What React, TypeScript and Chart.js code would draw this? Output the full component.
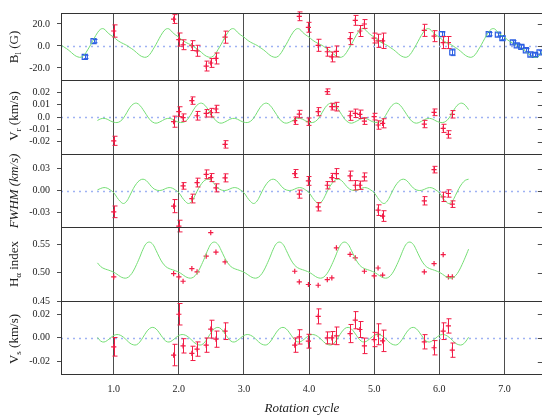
import React, { useEffect, useRef } from "react";
import { Chart, registerables } from "chart.js";

Chart.register(...registerables);

// ---------------- x axis (rotation cycle) ----------------
const X_MIN = 0.19;
const X_MAX = 7.59;
const X_TICKS = [1, 2, 3, 4, 5, 6, 7];
const X_TICK_LABELS = ["1.0", "2.0", "3.0", "4.0", "5.0", "6.0", "7.0"];
const X_TITLE = "Rotation cycle";

// ---------------- observations (red) ----------------
const OBS_X = [1.0, 1.92, 2.0, 2.065, 2.2, 2.28, 2.42, 2.49, 2.57, 2.71, 3.78, 3.85, 3.99, 4.14, 4.28, 4.35, 4.42, 4.63, 4.71, 4.78, 4.85, 5.0, 5.06, 5.13, 5.77, 5.92, 6.06, 6.14, 6.2];

const BL_Y = [13.6, 24.5, 5.8, 1.1, 0.3, -4.4, -18.3, -15.5, -11.4, 8, null, 27, 17, 0.6, -5.3, -10, -5, 6.7, 23.3, 13.6, 20, 7.2, 4.7, 4.7, 14.2, 8.9, 3.1, 3.1, null];
const BL_ERR = [5.6, 4, 6, 4.5, 4.5, 5, 4.5, 4, 5, 5.5, 0, 4, 4.5, 5.5, 4, 4.5, 5, 5.5, 4.5, 5, 4, 4.5, 6, 7, 5.5, 5, 5.5, 5.5, 0];

const VR_Y = [-0.0193, -0.0038, 0.0043, -0.0005, 0.0133, 0.001, 0.003, 0.0035, 0.0065, -0.0222, -0.003, 0.0024, -0.0038, 0.0043, 0.0206, 0.0084, 0.0084, 0.001, 0.003, 0.0022, -0.0033, 0.0003, -0.0065, -0.0051, -0.0057, 0.0038, -0.0092, -0.0141, 0.0022];
const VR_ERR = [0.0037, 0.0045, 0.004, 0.003, 0.003, 0.0035, 0.003, 0.0035, 0.003, 0.003, 0.003, 0.003, 0.003, 0.0033, 0.0022, 0.0027, 0.0035, 0.0037, 0.0034, 0.0034, 0.0027, 0.0027, 0.0034, 0.0037, 0.003, 0.0027, 0.0033, 0.003, 0.003];

const FW_Y = [-0.0292, -0.0214, -0.0487, 0.0063, -0.011, 0.0109, 0.0222, 0.0177, 0.0036, 0.0173, 0.0232, -0.005, 0.0131, -0.0223, 0.0072, 0.0177, 0.0232, 0.02, 0.0072, 0.0072, 0.0186, null, -0.0269, -0.035, -0.0141, 0.0286, -0.0087, -0.0041, -0.0187];
const FW_ERR = [0.008, 0.009, 0.008, 0.0045, 0.006, 0.006, 0.006, 0.0055, 0.0055, 0.0055, 0.0055, 0.0055, 0.006, 0.0057, 0.005, 0.0057, 0.0068, 0.0066, 0.0064, 0.0057, 0.0055, 0, 0.0073, 0.0073, 0.0057, 0.0045, 0.0064, 0.005, 0.0045];

const HA_Y = [0.4923, 0.4982, 0.4923, 0.4847, 0.507, 0.501, 0.529, 0.57, 0.536, 0.5186, 0.5023, 0.4835, 0.479, 0.4777, 0.4877, 0.4905, 0.5432, 0.532, 0.5256, null, 0.5023, 0.494, 0.508, 0.4953, 0.501, 0.5158, 0.5316, 0.4923, 0.4923];

const VS_Y = [-0.0075, -0.0144, 0.0198, -0.0067, -0.013, -0.0094, -0.0061, 0.0073, -0.0011, 0.0056, -0.0061, 0.0008, -0.0028, 0.018, 0.0, 0.0, 0.0017, 0.0036, 0.0148, 0.007, -0.0067, -0.0014, 0.003, -0.0025, -0.0033, -0.0083, 0.0056, 0.01, -0.0103];
const VS_ERR = [0.0078, 0.009, 0.009, 0.006, 0.006, 0.006, 0.006, 0.0075, 0.0068, 0.007, 0.006, 0.006, 0.0058, 0.0063, 0.005, 0.0053, 0.0074, 0.0076, 0.0072, 0.0067, 0.0065, 0.006, 0.0088, 0.009, 0.006, 0.006, 0.007, 0.006, 0.006];

// ---------------- other B_l measurements (blue squares) ----------------
const BLUE_X = [0.555, 0.69, 6.04, 6.2, 6.76, 6.9, 6.97, 7.13, 7.19, 7.26, 7.33, 7.4, 7.47, 7.54];
const BLUE_Y = [-10, 4.4, 10.8, -5.8, 10.8, 10.3, 7.2, 3.3, 0.6, -0.8, -3.9, -7.8, -8.1, -5.8];
const BLUE_ERR = [1.5, 1.5, 2, 3, 1.5, 1.5, 1.5, 1.5, 1.5, 1.5, 1.5, 1.5, 1.5, 1.5];

// ---------------- model curves: one rotation read at phase 0.00..0.95 (step 0.05) ----------------
const BL_MODEL = [8, 5.5, 3.5, 2, 0.5, -1.5, -3.5, -6, -8.5, -10, -10.2, -8, -3.5, 1.5, 7, 12, 15.3, 15.5, 12.5, 10];
const VR_MODEL = [-0.0042, -0.0045, -0.0035, -0.0008, 0.0035, 0.0078, 0.0105, 0.0112, 0.0095, 0.006, 0.002, -0.0018, -0.0042, -0.005, -0.0042, -0.0028, -0.0015, -0.0011, -0.0018, -0.0032];
const FW_MODEL = [-0.003, -0.0095, -0.015, -0.0178, -0.0145, -0.0065, 0.0025, 0.0095, 0.014, 0.0155, 0.0135, 0.0085, 0.0035, 0.0008, 0.0, 0.0008, 0.0028, 0.004, 0.0032, 0.0005];
const HA_MODEL = [0.5005, 0.497, 0.493, 0.4905, 0.4905, 0.4945, 0.5025, 0.514, 0.527, 0.541, 0.551, 0.5535, 0.5495, 0.539, 0.527, 0.517, 0.5105, 0.507, 0.505, 0.503];
const VS_MODEL = [0.002, 0.0028, 0.0022, 0.0005, -0.002, -0.0045, -0.0058, -0.0058, -0.0035, 0.0005, 0.0048, 0.0078, 0.0088, 0.0075, 0.0042, 0.0003, -0.0027, -0.0035, -0.0022, 0.0];

// ---------------- style ----------------
const W = 548;
const H = 416;
const PLOT_LEFT = 61;
const PLOT_RIGHT = 543;
const RED = "#f21b45";
const BLUE = "#2c5fe3";
const GREEN = "#74de74";
const ZERO_COLOR = "#9fb2f3";
const FRAME = "#333333";
const GRID = "#4d4d4d";
const TEXT = "#222222";
const FONT = "'Liberation Serif', 'Times New Roman', serif";
const CAP = 2;

type Seg = { t: string; sub?: boolean };
type Panel = {
  top: number; bottom: number; min: number; max: number;
  ticks: number[]; tickLabels: string[]; zero: boolean;
  title: Seg[]; italic?: boolean; titleY: number;
  model: number[]; curveFrom: number; curveTo: number;
  ys: (number | null)[]; errs?: number[]; blue?: boolean;
};

const PANELS: Panel[] = [
  { top: 7, bottom: 80, min: -31, max: 30, ticks: [-20, 0, 20], tickLabels: ["-20.0", "0.0", "20.0"], zero: true,
    title: [{ t: "B" }, { t: "l", sub: true }, { t: " (G)" }], titleY: 47,
    model: BL_MODEL, curveFrom: 0.15, curveTo: 7.65, ys: BL_Y, errs: BL_ERR, blue: true },
  { top: 80, bottom: 154, min: -0.03, max: 0.03, ticks: [-0.02, -0.01, 0, 0.01, 0.02], tickLabels: ["-0.02", "-0.01", "0.0", "0.01", "0.02"], zero: true,
    title: [{ t: "V" }, { t: "r", sub: true }, { t: " (km/s)" }], titleY: 116,
    model: VR_MODEL, curveFrom: 0.73, curveTo: 6.44, ys: VR_Y, errs: VR_ERR },
  { top: 154, bottom: 227, min: -0.05, max: 0.05, ticks: [-0.03, 0, 0.03], tickLabels: ["-0.03", "0.00", "0.03"], zero: true,
    title: [{ t: "FWHM (km/s)" }], italic: true, titleY: 191,
    model: FW_MODEL, curveFrom: 0.73, curveTo: 6.44, ys: FW_Y, errs: FW_ERR },
  { top: 227, bottom: 301, min: 0.45, max: 0.58, ticks: [0.45, 0.5, 0.55], tickLabels: ["0.45", "0.50", "0.55"], zero: false,
    title: [{ t: "H" }, { t: "α", sub: true }, { t: " index" }], titleY: 264,
    model: HA_MODEL, curveFrom: 0.73, curveTo: 6.44, ys: HA_Y },
  { top: 301, bottom: 374, min: -0.0303, max: 0.0309, ticks: [-0.02, 0, 0.02], tickLabels: ["-0.02", "0.00", "0.02"], zero: true,
    title: [{ t: "V" }, { t: "s", sub: true }, { t: " (km/s)" }], titleY: 339,
    model: VS_MODEL, curveFrom: 0.73, curveTo: 6.44, ys: VS_Y, errs: VS_ERR },
];

// model repeats each rotation: place the read phase values on every cycle
function modelCurve(profile: number[], from: number, to: number) {
  const n = profile.length;
  const pts: { x: number; y: number }[] = [];
  for (let i = Math.round(from * n); i <= Math.round(to * n); i++) {
    pts.push({ x: i / n, y: profile[((i % n) + n) % n] });
  }
  return pts;
}

function points(xs: number[], ys: (number | null)[], errs?: number[]) {
  const data: { x: number; y: number }[] = [];
  const e: number[] = [];
  xs.forEach((x, i) => {
    const y = ys[i];
    if (y === null || y === undefined) return;
    data.push({ x, y });
    e.push(errs ? errs[i] : 0);
  });
  return { data, e };
}

function makeDecor(p: Panel, isLast: boolean) {
  return {
    id: "decor",
    beforeDatasetsDraw(chart: any) {
      const { ctx, chartArea: a, scales } = chart;
      if (p.zero) {
        const y = Math.round(scales.y.getPixelForValue(0)) + 0.5;
        ctx.save();
        ctx.strokeStyle = ZERO_COLOR;
        ctx.lineWidth = 1.5;
        ctx.setLineDash([2, 4]);
        ctx.beginPath();
        ctx.moveTo(a.left, y);
        ctx.lineTo(a.right, y);
        ctx.stroke();
        ctx.restore();
      }
    },
    afterDatasetsDraw(chart: any) {
      const { ctx, scales } = chart;
      chart.data.datasets.forEach((ds: any, i: number) => {
        if (!ds.errs) return;
        const meta = chart.getDatasetMeta(i);
        ctx.save();
        ctx.strokeStyle = ds.borderColor;
        ctx.lineWidth = 1;
        meta.data.forEach((el: any, j: number) => {
          const v = ds.data[j].y;
          const e = ds.errs[j];
          if (!e) return;
          const x = Math.round(el.x) + 0.5;
          const y1 = scales.y.getPixelForValue(v + e);
          const y2 = scales.y.getPixelForValue(v - e);
          ctx.beginPath();
          ctx.moveTo(x, y1); ctx.lineTo(x, y2);
          ctx.moveTo(x - CAP, y1); ctx.lineTo(x + CAP + 1, y1);
          ctx.moveTo(x - CAP, y2); ctx.lineTo(x + CAP + 1, y2);
          ctx.stroke();
        });
        ctx.restore();
      });
    },
    afterDraw(chart: any) {
      const { ctx, chartArea: a, scales } = chart;
      ctx.save();
      // frame
      ctx.strokeStyle = FRAME;
      ctx.lineWidth = 1;
      ctx.strokeRect(a.left + 0.5, a.top + 0.5, a.right - a.left, a.bottom - a.top);
      // right-side inward ticks
      ctx.strokeStyle = GRID;
      p.ticks.forEach((v) => {
        const y = Math.round(scales.y.getPixelForValue(v)) + 0.5;
        ctx.beginPath();
        ctx.moveTo(a.right - 5, y);
        ctx.lineTo(a.right, y);
        ctx.stroke();
      });
      // y title (rotated, with subscript)
      ctx.fillStyle = TEXT;
      ctx.textBaseline = "middle";
      ctx.textAlign = "left";
      const main = `${p.italic ? "italic " : ""}13px ${FONT}`;
      const sub = `9px ${FONT}`;
      let total = 0;
      p.title.forEach((s) => { ctx.font = s.sub ? sub : main; total += ctx.measureText(s.t).width; });
      ctx.translate(15, p.titleY);
      ctx.rotate(-Math.PI / 2);
      let x = -total / 2;
      p.title.forEach((s) => {
        ctx.font = s.sub ? sub : main;
        ctx.fillText(s.t, x, s.sub ? 3.5 : 0);
        x += ctx.measureText(s.t).width;
      });
      ctx.setTransform(1, 0, 0, 1, 0, 0);
      if (isLast) {
        ctx.font = `italic 13px ${FONT}`;
        ctx.textAlign = "center";
        ctx.fillText(X_TITLE, (a.left + a.right) / 2, 409);
      }
      ctx.restore();
    },
  };
}

function buildConfig(p: Panel, isLast: boolean): any {
  const obs = points(OBS_X, p.ys, p.errs);
  const datasets: any[] = [
    {
      data: modelCurve(p.model, p.curveFrom, p.curveTo),
      showLine: true, borderColor: GREEN, borderWidth: 1, pointRadius: 0, tension: 0.4, fill: false,
    },
  ];
  if (p.blue) {
    const b = points(BLUE_X, BLUE_Y, BLUE_ERR);
    datasets.push({
      data: b.data, errs: b.e, pointStyle: "rect", pointRadius: 3.6, borderColor: BLUE,
      backgroundColor: "rgba(255,255,255,0)", borderWidth: 1.2, clip: false,
    });
  }
  datasets.push({
    data: obs.data, errs: p.errs ? obs.e : undefined, pointStyle: "cross", pointRadius: 2.6,
    borderColor: RED, backgroundColor: RED, borderWidth: 1.2, clip: false,
  });

  const xAxisH = isLast ? 42 : 0;
  return {
    type: "scatter",
    data: { datasets },
    options: {
      animation: false,
      responsive: false,
      maintainAspectRatio: false,
      events: [],
      layout: {
        padding: { left: 0, right: W - PLOT_RIGHT, top: p.top, bottom: H - p.bottom - xAxisH },
      },
      plugins: { legend: { display: false }, tooltip: { enabled: false }, title: { display: false } },
      scales: {
        x: {
          type: "linear", min: X_MIN, max: X_MAX,
          afterBuildTicks: (s: any) => { s.ticks = X_TICKS.map((v) => ({ value: v })); },
          afterFit: (s: any) => { s.height = xAxisH; },
          grid: { display: true, drawOnChartArea: true, drawTicks: false, color: GRID, lineWidth: 1 },
          border: { display: false },
          ticks: {
            display: isLast, autoSkip: false, maxRotation: 0, padding: 9, color: TEXT,
            font: { family: FONT, size: 10 },
            callback: (_v: any, i: number) => X_TICK_LABELS[i],
          },
        },
        y: {
          type: "linear", min: p.min, max: p.max,
          afterBuildTicks: (s: any) => { s.ticks = p.ticks.map((v) => ({ value: v })); },
          afterFit: (s: any) => { s.width = PLOT_LEFT; },
          grid: { display: true, drawOnChartArea: false, drawTicks: true, tickLength: 4, color: GRID },
          border: { display: false },
          ticks: {
            autoSkip: false, padding: 7, color: TEXT, font: { family: FONT, size: 10 },
            callback: (_v: any, i: number) => p.tickLabels[i],
          },
        },
      },
    },
    plugins: [makeDecor(p, isLast)],
  };
}

export default function App() {
  const refs = useRef<(HTMLCanvasElement | null)[]>([]);
  useEffect(() => {
    const charts = PANELS.map((p, i) => new Chart(refs.current[i] as HTMLCanvasElement, buildConfig(p, i === PANELS.length - 1)));
    return () => charts.forEach((c) => c.destroy());
  }, []);
  return (
    <div style={{ position: "absolute", left: 0, top: 0, width: 542, height: 416, overflow: "hidden", background: "#fff" }}>
      {PANELS.map((_p, i) => (
        <canvas
          key={i}
          ref={(el) => { refs.current[i] = el; }}
          width={W}
          height={H}
          style={{ position: "absolute", left: 0, top: 0, width: W, height: H }}
        />
      ))}
    </div>
  );
}
